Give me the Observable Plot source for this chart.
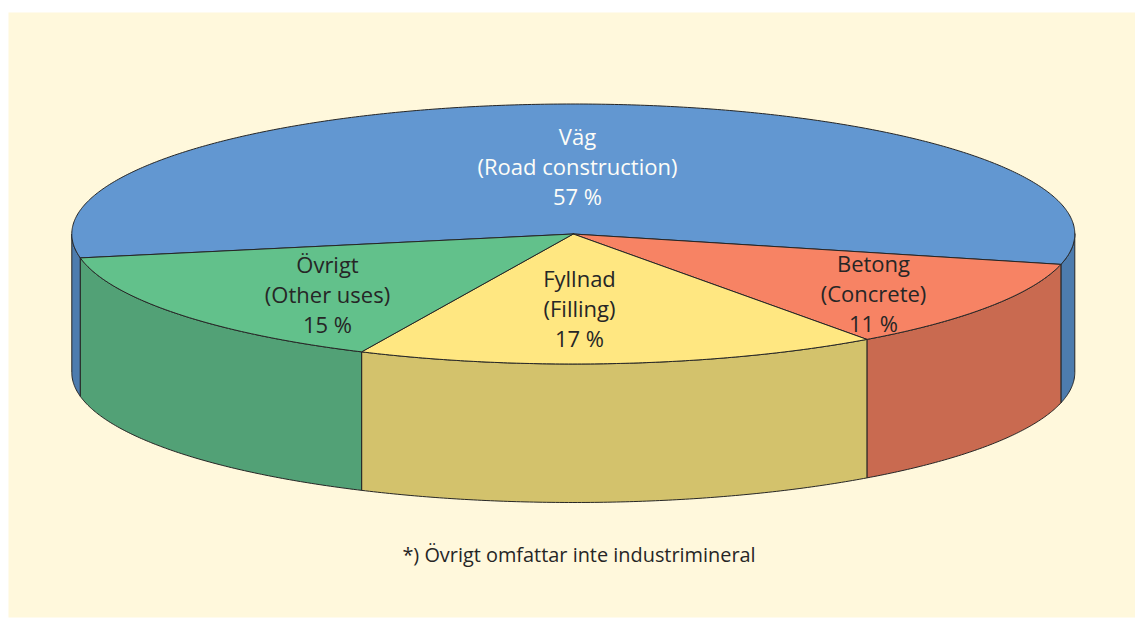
<!DOCTYPE html>
<html lang="sv">
<head>
<meta charset="utf-8">
<title>Användning</title>
<script src="https://cdn.jsdelivr.net/npm/d3@7"></script>
<script src="https://cdn.jsdelivr.net/npm/@observablehq/plot@0.6"></script>
<style>html,body{margin:0;padding:0;background:#fff;overflow:hidden}svg{display:block}</style>
</head>
<body>
<div id="chart"></div>
<script>
// Data (drawn wedge sizes, clockwise from the Väg wedge)
const categories = ["Väg", "Betong", "Fyllnad", "Övrigt"];
const englishNames = ["Road construction", "Concrete", "Filling", "Other uses"];
const labelledPercent = [57, 11, 17, 15];
const drawnShares = [56.7, 11.29, 16.89, 15.12];

// Styles and layout, separate from the data
const topColors = ["#6297d1", "#f78364", "#ffe781", "#62c18b"];
const sideColors = ["#4d7cae", "#c96a50", "#d3c26c", "#52a176"];
const textColors = ["#fdfdf8", "#262626", "#262626", "#262626"];
const labelX = [577, 873, 579, 327];
const labelY = [165, 292, 307, 293];
const footnote = "*) Övrigt omfattar inte industrimineral";
const cx = 572.8, cy = 233.5, rx = 501.5, ry = 130, depth = 138.5;
const startDeg = 169.4;  // where the Väg wedge begins, degrees on the ellipse
const edge = "#262626";

const rad = d => d * Math.PI / 180;
const rim = (deg, drop = 0) => ({x: cx + rx * Math.cos(rad(deg)), y: cy + ry * Math.sin(rad(deg)) + drop});
const arc = (a, b, drop = 0) => {
  const n = Math.max(2, Math.ceil(Math.abs(b - a) * 2));
  return d3.range(n + 1).map(i => rim(a + (b - a) * i / n, drop));
};

// Wedge limits from the shares
let acc = startDeg;
const wedges = categories.map((c, i) => {
  const from = acc;
  acc += drawnShares[i] * 3.6;
  return {from, to: acc, i};
});

// Only the lower half of the rim (0..180 degrees, modulo 360) shows a wall
const walls = [];
for (const w of wedges) {
  for (const k of [0, 360]) {
    const a = Math.max(w.from, k), b = Math.min(w.to, k + 180);
    if (b > a) {
      const top = arc(a, b), bottom = arc(b, a, depth);
      walls.push({i: w.i, pts: [...top, ...bottom, top[0]]});
    }
  }
}
const tops = wedges.map(w => ({i: w.i, pts: [{x: cx, y: cy}, ...arc(w.from, w.to), {x: cx, y: cy}]}));

const polygon = (p, colors) => Plot.line(p.pts, {
  x: "x", y: "y", fill: colors[p.i], stroke: edge, strokeWidth: 1, strokeLinejoin: "round", curve: "linear"
});

const labels = categories.map((c, i) => ({
  text: `${c}\n(${englishNames[i]})\n${labelledPercent[i]} %`,
  x: labelX[i], y: labelY[i], color: textColors[i]
}));

const chart = Plot.plot({
  width: 1135, height: 618,
  marginLeft: 8, marginRight: 0, marginTop: 12, marginBottom: 1,
  x: {domain: [8, 1135], range: [8, 1135], axis: null},
  y: {domain: [12, 617], range: [12, 617], axis: null},
  style: {background: "#fff", fontFamily: "'Open Sans', sans-serif"},
  marks: [
    Plot.frame({fill: "#fff8dc", stroke: null}),
    ...walls.map(p => polygon(p, sideColors)),
    ...tops.map(p => polygon(p, topColors)),
    Plot.text(labels, {x: "x", y: "y", text: "text", fill: "color", fontSize: 22, lineHeight: 1.36, textAnchor: "middle"}),
    Plot.text([footnote], {x: () => 578.5, y: () => 555, text: d => d, fill: "#262626", fontSize: 19.9, textAnchor: "middle"})
  ]
});
document.getElementById("chart").append(chart);
</script>
</body>
</html>
